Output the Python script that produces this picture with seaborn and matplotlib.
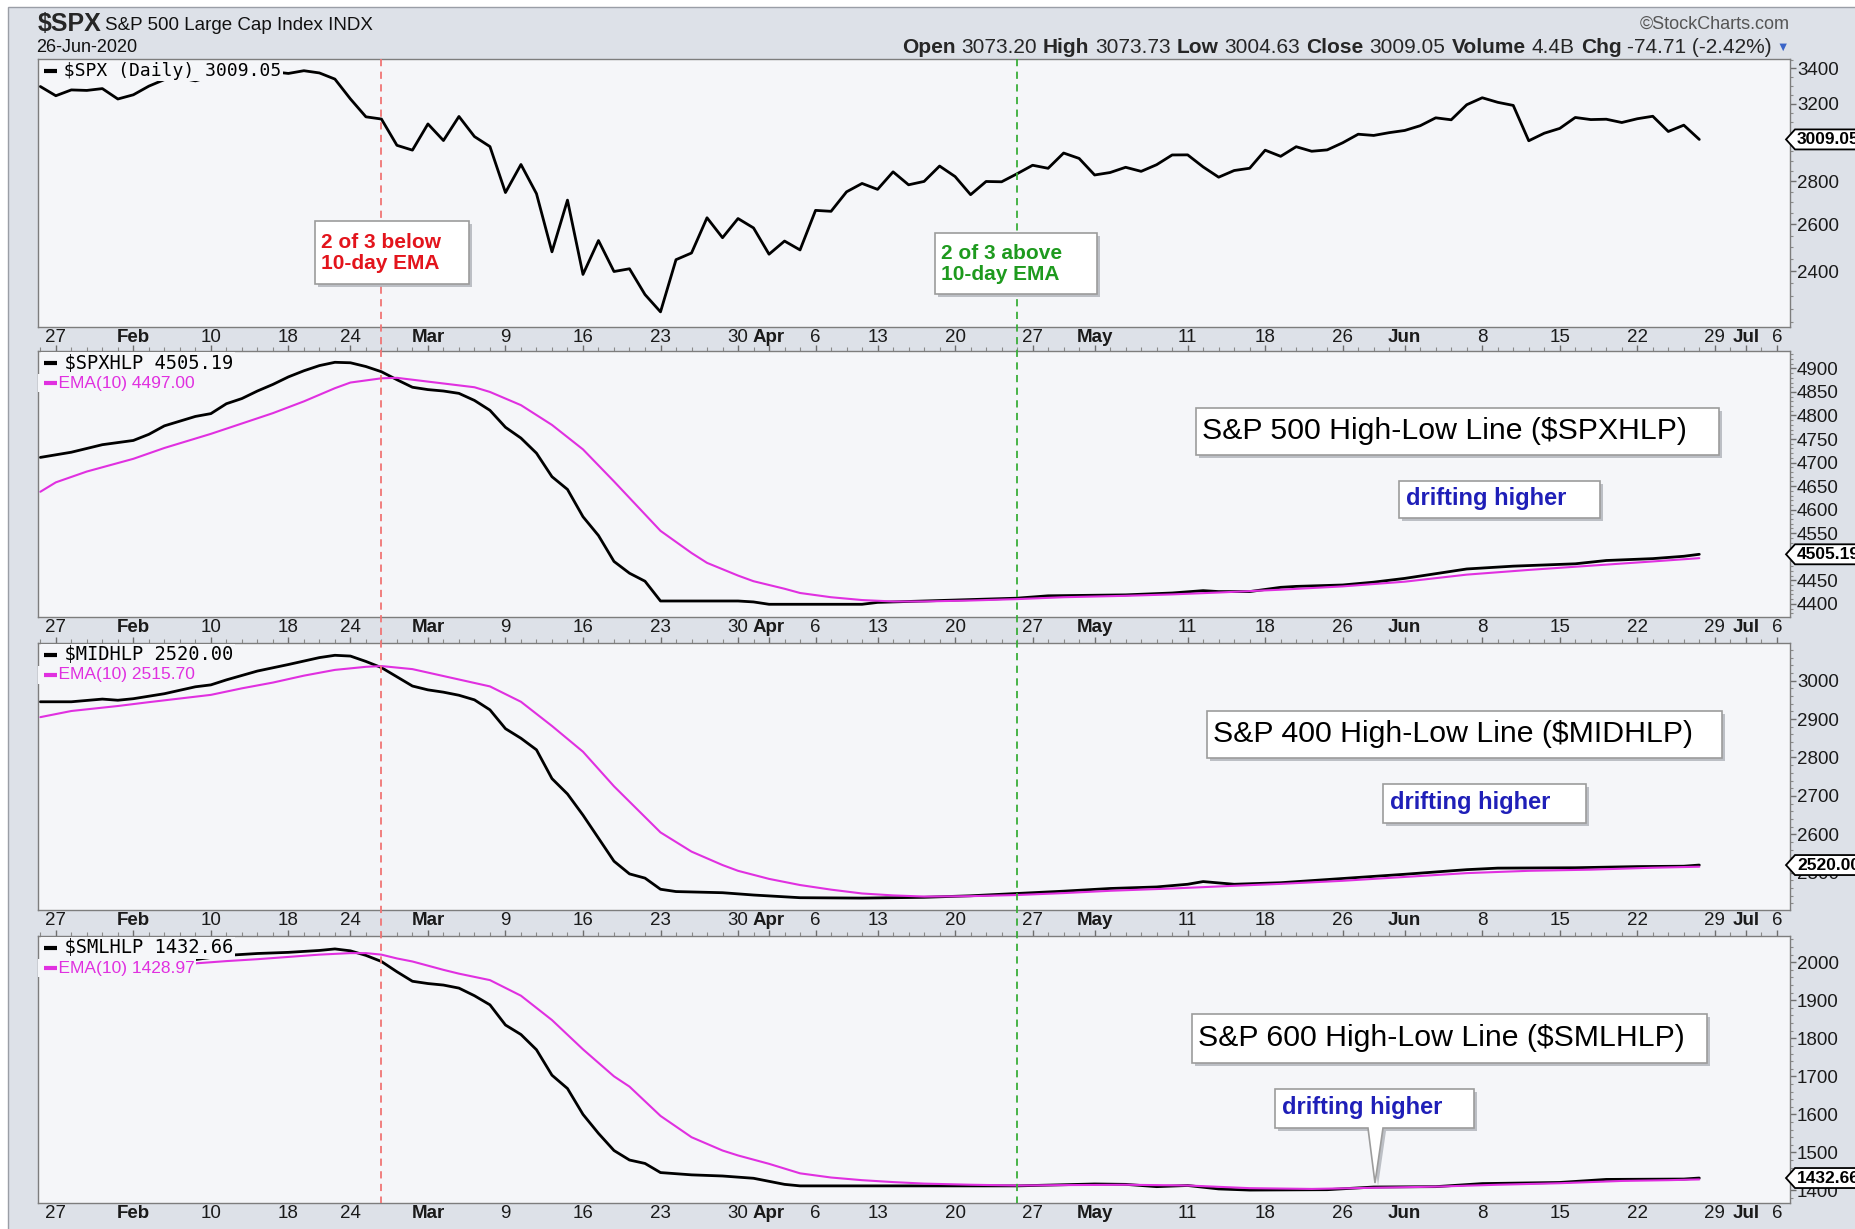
import numpy as np
import pandas as pd
import matplotlib
matplotlib.use("Agg")
import matplotlib.pyplot as plt
import matplotlib.ticker as mticker
from matplotlib.patches import Polygon
from matplotlib.lines import Line2D
from matplotlib.transforms import blended_transform_factory
import seaborn as sns

# ---------------------------------------------------------------- data
holidays = ["2020-02-17", "2020-04-10", "2020-05-25", "2020-07-03"]
session_days = pd.bdate_range("2020-01-24", "2020-07-06")
session_days = session_days[~session_days.isin(pd.to_datetime(holidays))]

tick_dates = ["2020-01-27", "2020-02-03", "2020-02-10", "2020-02-18", "2020-02-24",
              "2020-03-02", "2020-03-09", "2020-03-16", "2020-03-23", "2020-03-30",
              "2020-04-01", "2020-04-06", "2020-04-13", "2020-04-20", "2020-04-27",
              "2020-05-01", "2020-05-11", "2020-05-18", "2020-05-26", "2020-06-01",
              "2020-06-08", "2020-06-15", "2020-06-22", "2020-06-29", "2020-07-01",
              "2020-07-06"]
tick_labels = ["27", "Feb", "10", "18", "24", "Mar", "9", "16", "23", "30", "Apr", "6",
               "13", "20", "27", "May", "11", "18", "26", "Jun", "8", "15", "22", "29",
               "Jul", "6"]
month_labels = {"Feb", "Mar", "Apr", "May", "Jun", "Jul"}

red_line_date = "2020-02-26"
green_line_date = "2020-04-24"

spx_close = [3295.47, 3243.63, 3276.24, 3273.40, 3283.66, 3225.52,
             3248.92, 3297.59, 3334.69, 3345.78, 3327.71, 3352.09, 3357.75, 3379.45,
             3373.94, 3380.16, 3370.29, 3386.15, 3373.23, 3337.75, 3225.89, 3128.21,
             3116.39, 2978.76, 2954.22,
             3090.23, 3003.37, 3130.12, 3023.94, 2972.37, 2746.56, 2882.23, 2741.38,
             2480.64, 2711.02, 2386.13, 2529.19, 2398.10, 2409.39, 2304.92, 2237.40,
             2447.33, 2475.56, 2630.07, 2541.47, 2626.65, 2584.59,
             2470.50, 2526.90, 2488.65, 2663.68, 2659.41, 2749.98, 2789.82, 2761.63,
             2846.06, 2783.36, 2799.55, 2874.56, 2823.16, 2736.56, 2799.31, 2797.80,
             2836.74, 2878.48, 2863.39, 2939.51, 2912.43,
             2830.71, 2842.74, 2868.44, 2848.42, 2881.19, 2929.80, 2930.32, 2870.12,
             2820.00, 2852.50, 2863.70, 2953.91, 2922.94, 2971.61, 2948.51, 2955.45,
             2991.77, 3036.13, 3029.73, 3044.31,
             3055.73, 3080.82, 3122.87, 3112.35, 3193.93, 3232.39, 3207.18, 3190.14,
             3002.10, 3041.31, 3066.59, 3124.74, 3113.49, 3115.34, 3097.74, 3117.86,
             3131.29, 3050.33, 3083.76, 3009.05]

# High-Low lines: (trading-day offset, value) pairs
spxhlp_day = [0, 2, 4, 6, 7, 8, 10, 11, 12, 13, 14, 15, 16, 17, 18, 19, 20, 21, 22, 23,
              24, 25, 26, 27, 28, 29, 30, 31, 32, 33, 34, 35, 36, 37, 38, 39, 40, 45, 46,
              47, 53, 54, 55, 57, 60, 63, 65, 70, 73, 75, 76, 78, 80, 81, 84, 86, 88, 90,
              92, 95, 99, 101, 104, 106, 107]
spxhlp_val = [4711, 4722, 4738, 4747, 4760, 4778, 4798, 4804, 4825, 4836, 4852, 4866,
              4882, 4895, 4906, 4913, 4912, 4904, 4893, 4876, 4860, 4855, 4852, 4847,
              4832, 4811, 4775, 4752, 4720, 4670, 4643, 4585, 4545, 4490, 4465, 4448,
              4406, 4406, 4404, 4399, 4399, 4403, 4404, 4406, 4409, 4412, 4417, 4419,
              4423, 4428, 4426, 4426, 4435, 4437, 4440, 4446, 4454, 4464, 4474, 4480,
              4485, 4492, 4496, 4501, 4505.19]
spxema_day = [0, 1, 3, 6, 8, 11, 13, 15, 17, 19, 20, 22, 23, 24, 26, 28, 29, 31, 33, 35,
              37, 38, 40, 42, 43, 45, 46, 48, 49, 51, 53, 55, 57, 60, 63, 66, 70, 73, 76,
              80, 84, 88, 92, 96, 100, 104, 107]
spxema_val = [4638, 4658, 4681, 4708, 4731, 4761, 4783, 4805, 4830, 4858, 4870, 4879,
              4880, 4876, 4868, 4860, 4850, 4822, 4780, 4728, 4660, 4625, 4555, 4508,
              4487, 4460, 4448, 4432, 4423, 4414, 4408, 4405, 4405, 4407, 4410, 4414,
              4417, 4420, 4424, 4430, 4437, 4447, 4462, 4472, 4481, 4490, 4497.00]

midhlp_day = [0, 2, 4, 5, 6, 8, 10, 11, 12, 14, 16, 18, 19, 20, 21, 22, 23, 24, 25, 26,
              27, 28, 29, 30, 31, 32, 33, 34, 35, 36, 37, 38, 39, 40, 41, 44, 46, 49, 53,
              57, 60, 63, 66, 69, 72, 74, 75, 77, 80, 84, 88, 92, 94, 99, 103, 106, 107]
midhlp_val = [2945, 2945, 2952, 2949, 2953, 2966, 2984, 2989, 3002, 3025, 3042, 3060,
              3066, 3064, 3050, 3034, 3010, 2986, 2976, 2970, 2962, 2950, 2924, 2875,
              2850, 2820, 2745, 2705, 2650, 2590, 2530, 2497, 2486, 2457, 2451, 2448,
              2442, 2435, 2434, 2436, 2440, 2446, 2452, 2459, 2463, 2470, 2477, 2470,
              2474, 2485, 2496, 2508, 2512, 2513, 2516, 2517, 2520.00]
midema_day = [0, 2, 5, 7, 11, 13, 15, 17, 19, 21, 22, 24, 26, 28, 29, 31, 33, 35, 37, 38,
              40, 42, 44, 45, 47, 49, 51, 53, 55, 57, 60, 63, 66, 69, 73, 77, 80, 84, 88,
              92, 96, 100, 104, 107]
midema_val = [2905, 2921, 2934, 2944, 2963, 2980, 2995, 3013, 3028, 3036, 3038, 3030,
              3012, 2994, 2985, 2945, 2882, 2815, 2725, 2685, 2605, 2555, 2520, 2505,
              2484, 2468, 2456, 2446, 2441, 2438, 2439, 2442, 2447, 2453, 2459, 2466,
              2471, 2479, 2489, 2499, 2505, 2508, 2513, 2515.70]

smlhlp_day = [0, 4, 8, 10, 12, 14, 16, 18, 19, 20, 21, 22, 23, 24, 25, 26, 27, 28, 29, 30,
              31, 32, 33, 34, 35, 36, 37, 38, 39, 40, 42, 44, 46, 47, 48, 49, 57, 63, 66,
              68, 70, 72, 74, 76, 78, 83, 86, 90, 93, 98, 101, 106, 107]
smlhlp_val = [2003, 2004, 2005, 2007, 2018, 2023, 2026, 2031, 2035, 2030, 2018, 2002,
              1975, 1950, 1944, 1940, 1932, 1912, 1888, 1835, 1810, 1770, 1703, 1668,
              1600, 1550, 1505, 1480, 1471, 1447, 1441, 1438, 1432, 1424, 1416, 1412,
              1412, 1412, 1415, 1417, 1416, 1410, 1413, 1404, 1401, 1402, 1409, 1410,
              1418, 1421, 1429, 1430, 1432.66]
smlema_day = [0, 5, 10, 12, 14, 16, 18, 20, 21, 22, 23, 24, 26, 27, 29, 31, 33, 35, 37,
              38, 40, 42, 44, 45, 47, 49, 51, 53, 55, 57, 60, 63, 66, 70, 74, 78, 82, 86,
              90, 94, 98, 102, 105, 107]
smlema_val = [1995, 1996, 1997, 2003, 2008, 2014, 2020, 2024, 2024, 2020, 2010, 2002,
              1980, 1970, 1953, 1912, 1848, 1771, 1700, 1673, 1596, 1540, 1505, 1492,
              1470, 1445, 1434, 1427, 1422, 1418, 1415, 1413, 1414, 1415, 1413, 1406,
              1404, 1407, 1410, 1415, 1419, 1425, 1427, 1428.97]

spx_ticks = [2400, 2600, 2800, 3000, 3200, 3400]
spxhlp_ticks = [4400, 4450, 4500, 4550, 4600, 4650, 4700, 4750, 4800, 4850, 4900]
midhlp_ticks = [2500, 2600, 2700, 2800, 2900, 3000]
smlhlp_ticks = [1400, 1500, 1600, 1700, 1800, 1900, 2000]

header_pieces = [("Open", True), ("3073.20", False), ("High", True), ("3073.73", False),
                 ("Low", True), ("3004.63", False), ("Close", True), ("3009.05", False),
                 ("Volume", True), ("4.4B", False), ("Chg", True), ("-74.71 (-2.42%)", False)]

# ---------------------------------------------------------------- style
sns.set_style("white")
plt.rcParams["font.family"] = ["Liberation Sans", "DejaVu Sans"]
MONO = ["DejaVu Sans Mono", "DejaVu Sans"]
SANS = ["Liberation Sans", "DejaVu Sans"]

W, H = 1856, 1229
BG = "#dde1e8"
PANEL = "#f5f6f9"
EDGE = "#7d7d7d"
MAGENTA = "#e030e0"
RED = "#e3141c"
GREEN = "#1e9a1e"
BLUE = "#1f1fb8"

fig = plt.figure(figsize=(W / 100, H / 100), dpi=100, facecolor="white")


def fxy(x, y):
    return x / W, 1 - y / H


fig.add_artist(Polygon([fxy(8, 7), fxy(W + 5, 7), fxy(W + 5, H + 5), fxy(8, H + 5)],
                       closed=True, transform=fig.transFigure, facecolor=BG,
                       edgecolor="#9a9ea6", lw=1, zorder=-5))

L, R = 38, 1790
panel_px = [(59, 327), (351, 617), (643, 910), (936, 1203)]
axes = []
for (t, b) in panel_px:
    ax = fig.add_axes([L / W, 1 - b / H, (R - L) / W, (b - t) / H])
    ax.set_facecolor(PANEL)
    for s in ax.spines.values():
        s.set_color(EDGE)
        s.set_linewidth(1.0)
    axes.append(ax)

x_all = np.arange(len(session_days))
spx_x = x_all[:len(spx_close)]
tick_pos = [session_days.get_loc(pd.Timestamp(d)) for d in tick_dates]

# ---------------------------------------------------------------- lines
sns.lineplot(x=spx_x, y=spx_close, ax=axes[0], color="black", lw=2.0, estimator=None)

series = [(axes[1], spxhlp_day, spxhlp_val, spxema_day, spxema_val),
          (axes[2], midhlp_day, midhlp_val, midema_day, midema_val),
          (axes[3], smlhlp_day, smlhlp_val, smlema_day, smlema_val)]
for ax, d1, v1, d2, v2 in series:
    sns.lineplot(x=d1, y=v1, ax=ax, color="black", lw=2.0, estimator=None)
    sns.lineplot(x=d2, y=v2, ax=ax, color=MAGENTA, lw=1.5, estimator=None)

# ---------------------------------------------------------------- axes
axes[0].set_yscale("log")
axes[0].set_ylim(2180, 3455)
axes[1].set_ylim(4372, 4937)
axes[2].set_ylim(2403, 3098)
axes[3].set_ylim(1367, 2069)
majors = [spx_ticks, spxhlp_ticks, midhlp_ticks, smlhlp_ticks]
minors = [np.arange(2200, 3451, 50), np.arange(4380, 4931, 10),
          np.arange(2420, 3091, 20), np.arange(1380, 2061, 20)]

for i, ax in enumerate(axes):
    ax.set_xlabel("")
    ax.set_ylabel("")
    ax.set_xlim(-0.15, 112.85)
    ax.set_xticks(tick_pos)
    ax.set_xticklabels(tick_labels)
    ax.set_xticks(x_all, minor=True)
    ax.tick_params(axis="x", which="major", direction="out", length=4, width=1,
                   color="#6e6e6e", pad=-2.5, labelsize=13.5, labelcolor="#1a1a1a")
    ax.tick_params(axis="x", which="minor", direction="out", length=3, width=0.8,
                   color="#8a8a8a")
    if i > 0:
        ax.tick_params(axis="x", which="both", top=True)
    for lbl in ax.get_xticklabels():
        if lbl.get_text() in month_labels:
            lbl.set_fontweight("bold")
    ax.yaxis.tick_right()
    ax.yaxis.set_major_locator(mticker.FixedLocator(majors[i]))
    ax.yaxis.set_minor_locator(mticker.FixedLocator(minors[i]))
    ax.yaxis.set_major_formatter(mticker.FuncFormatter(lambda v, p: f"{v:.0f}"))
    ax.yaxis.set_minor_formatter(mticker.NullFormatter())
    ax.tick_params(axis="y", which="major", direction="out", length=4, width=1,
                   color="#6e6e6e", pad=1, labelsize=13.5, labelcolor="#1a1a1a")
    ax.tick_params(axis="y", which="minor", direction="out", length=2, width=0.8,
                   color="#8a8a8a")
    ax.tick_params(axis="y", which="both", left=False, labelleft=False)


# ---------------------------------------------------------------- legends
def ax_frac(i, x_px, y_px):
    t, b = panel_px[i]
    return x_px / (R - L), 1 - y_px / (b - t)


def legend_entry(i, y_px, text, color, family, size, lead, x_start):
    ax = axes[i]
    (x0, yy), (x1, _) = ax_frac(i, 6, y_px), ax_frac(i, 19, y_px)
    ax.text(*ax_frac(i, x_start, y_px), " " * lead + text, transform=ax.transAxes,
            family=family, fontsize=size, color=color, va="center", ha="left",
            zorder=8, bbox=dict(facecolor=PANEL, edgecolor="none", pad=1.0))
    ax.add_line(Line2D([x0, x1], [yy, yy], transform=ax.transAxes, color=color,
                       lw=3, solid_capstyle="butt", zorder=9))


legend_entry(0, 12, "$SPX (Daily) 3009.05", "black", MONO, 13, 2, 4)
legend_entry(1, 12, "$SPXHLP 4505.19", "black", MONO, 13.5, 2, 4)
legend_entry(1, 32, "EMA(10) 4497.00", MAGENTA, SANS, 12.5, 4, 1)
legend_entry(2, 11.5, "$MIDHLP 2520.00", "black", MONO, 13.5, 2, 4)
legend_entry(2, 32, "EMA(10) 2515.70", MAGENTA, SANS, 12.5, 4, 1)
legend_entry(3, 12, "$SMLHLP 1432.66", "black", MONO, 13.5, 2, 4)
legend_entry(3, 32, "EMA(10) 1428.97", MAGENTA, SANS, 12.5, 4, 1)

# ---------------------------------------------------------------- vertical markers
tr = blended_transform_factory(axes[0].transData, fig.transFigure)
for dstr, col in [(red_line_date, "#f07575"), (green_line_date, "#3aae3a")]:
    xd = session_days.get_loc(pd.Timestamp(dstr))
    fig.add_artist(Line2D([xd, xd], [1 - 59 / H, 1 - 1203 / H], transform=tr, color=col,
                          lw=1.3, ls=(0, (4, 3)), zorder=0.5))


# ---------------------------------------------------------------- annotation boxes
def box(pts, shadow=True, edge="#9c9c9c", zorder=6, lw=1.2):
    if shadow:
        fig.add_artist(Polygon([fxy(x + 3, y + 3) for x, y in pts], closed=True,
                               transform=fig.transFigure, facecolor="#a9adb4",
                               edgecolor="none", alpha=0.75, zorder=zorder - 0.1))
    fig.add_artist(Polygon([fxy(x, y) for x, y in pts], closed=True,
                           transform=fig.transFigure, facecolor="white",
                           edgecolor=edge, lw=lw, zorder=zorder))


def rect(x0, y0, x1, y1):
    return [(x0, y0), (x1, y0), (x1, y1), (x0, y1)]


box(rect(315, 221, 469, 284))
fig.text(*fxy(321, 253), "2 of 3 below\n10-day EMA", color=RED, fontsize=15,
         fontweight="bold", va="center", ha="left", linespacing=1.15, zorder=7)
box(rect(935, 233, 1097, 294))
fig.text(*fxy(941, 264), "2 of 3 above\n10-day EMA", color=GREEN, fontsize=15,
         fontweight="bold", va="center", ha="left", linespacing=1.15, zorder=7)

titles = [((1196, 408, 1719, 455), "S&P 500 High-Low Line ($SPXHLP)"),
          ((1207, 711, 1722, 758), "S&P 400 High-Low Line ($MIDHLP)"),
          ((1192, 1014, 1707, 1063), "S&P 600 High-Low Line ($SMLHLP)")]
for (x0, y0, x1, y1), txt in titles:
    box(rect(x0, y0, x1, y1))
    fig.text(*fxy(x0 + 6, (y0 + y1) / 2), txt, fontsize=21.8, color="black",
             va="center", ha="left", zorder=7)

drift = [(1399, 481, 1600, 518), (1383, 784, 1586, 823)]
for (x0, y0, x1, y1) in drift:
    box(rect(x0, y0, x1, y1))
    fig.text(*fxy(x0 + 7, (y0 + y1) / 2 - 1), "drifting higher", fontsize=17,
             fontweight="bold", color=BLUE, va="center", ha="left", zorder=7)
# callout with pointer in the small-cap panel
box([(1275, 1089), (1474, 1089), (1474, 1128), (1383, 1128), (1375, 1183),
     (1368, 1128), (1275, 1128)])
fig.text(*fxy(1282, 1107.5), "drifting higher", fontsize=17, fontweight="bold",
         color=BLUE, va="center", ha="left", zorder=7)


# ---------------------------------------------------------------- value boxes
def value_box(ax, val, label):
    y = H - ax.transData.transform((0, val))[1]
    pts = [(1786, y), (1795, y - 10), (1875, y - 10), (1875, y + 10), (1795, y + 10)]
    box(pts, shadow=False, edge="black", zorder=8, lw=1.3)
    fig.text(*fxy(1797, y + 0.5), label, fontsize=12.5, fontweight="bold",
             color="black", va="center", ha="left", zorder=9)


value_box(axes[0], spx_close[-1], "3009.05")
value_box(axes[1], spxhlp_val[-1], "4505.19")
value_box(axes[2], midhlp_val[-1], "2520.00")
value_box(axes[3], smlhlp_val[-1], "1432.66")

# ---------------------------------------------------------------- header
fig.text(*fxy(38, 24), "$SPX", fontsize=18, fontweight="bold", va="center", ha="left")
fig.text(*fxy(105, 25), "S&P 500 Large Cap Index INDX", fontsize=13.5, va="center",
         ha="left", color="#111")
fig.text(*fxy(36, 48), "26-Jun-2020", fontsize=13, va="center", ha="left", color="#111")
fig.text(*fxy(1790, 24), "\u00a9StockCharts.com", fontsize=13, color="#555",
         va="center", ha="right")

HSIZE = 15
first = fig.text(*fxy(1772, 57), header_pieces[-1][0], fontsize=HSIZE, ha="right",
                 va="bottom", fontweight="bold" if header_pieces[-1][1] else "normal")
prev = first
for txt, bold in reversed(header_pieces[:-1]):
    prev = axes[0].annotate(txt, xy=(0, 0), xycoords=prev, xytext=(-6, 0),
                            textcoords="offset pixels", ha="right", va="bottom",
                            fontsize=HSIZE, fontweight="bold" if bold else "normal",
                            annotation_clip=False)
axes[0].annotate("\u25bc", xy=(1, 0.5), xycoords=first, xytext=(4, 0),
                 textcoords="offset pixels", ha="left", va="center", fontsize=9,
                 color="#3a64c8", annotation_clip=False)

fig.savefig("out.png", dpi=100, facecolor=fig.get_facecolor())
